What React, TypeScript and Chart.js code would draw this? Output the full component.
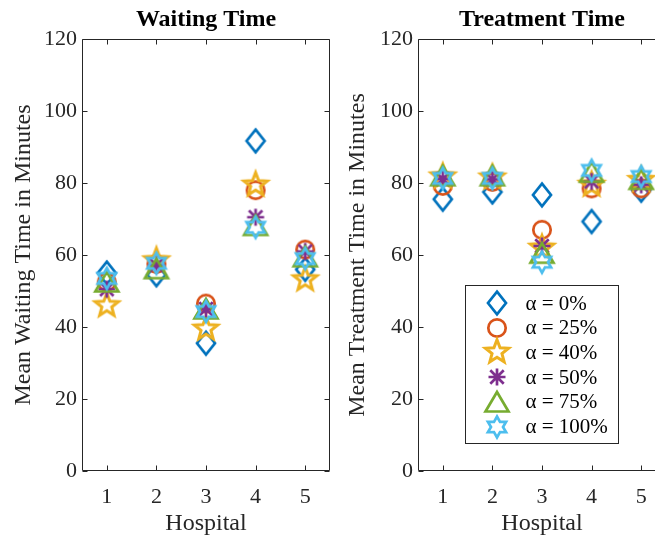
import React, { useEffect, useRef } from "react";
import { Chart, registerables } from "chart.js";

Chart.register(...registerables);

// ---------- data ----------
const hospitals = [1, 2, 3, 4, 5];
const yTickValues = [0, 20, 40, 60, 80, 100, 120];
const alphaLabels = ["α = 0%", "α = 25%", "α = 40%", "α = 50%", "α = 75%", "α = 100%"];

const waitAlpha0 = [55, 54.5, 35.5, 91.7, 56];
const waitAlpha25 = [52.5, 57.5, 46.5, 78, 61.5];
const waitAlpha40 = [46, 58.5, 39.5, 79.5, 53.2];
const waitAlpha50 = [50.5, 57.2, 45, 70.5, 61];
const waitAlpha75 = [52.5, 56.2, 45, 68.2, 59.5];
const waitAlpha100 = [53.5, 57.7, 44.3, 67.7, 59];

const treatAlpha0 = [75.5, 77.5, 76.7, 69.3, 78];
const treatAlpha25 = [79.2, 80.3, 67, 78.5, 78.5];
const treatAlpha40 = [81.8, 81.5, 62, 79.5, 80.8];
const treatAlpha50 = [81.1, 81, 62.5, 80.4, 79.5];
const treatAlpha75 = [82, 82, 60.5, 83, 81];
const treatAlpha100 = [81.3, 81.3, 58, 83.5, 81.8];

const waitSeries = [waitAlpha0, waitAlpha25, waitAlpha40, waitAlpha50, waitAlpha75, waitAlpha100];
const treatSeries = [treatAlpha0, treatAlpha25, treatAlpha40, treatAlpha50, treatAlpha75, treatAlpha100];

// ---------- style ----------
const seriesColors = ["#0072BD", "#D95319", "#EDB120", "#7E2F8E", "#77AC30", "#4DBEEE"];
const markerKinds = ["diamond", "circle", "pentagram", "asterisk", "triangle", "hexagram"];
const FONT = "'Liberation Serif', 'Times New Roman', serif";
const AXIS_COLOR = "#262626";

function makeMarker(kind: string, color: string): HTMLCanvasElement {
  const s = 34;
  const c = document.createElement("canvas");
  c.width = s;
  c.height = s;
  const ctx = c.getContext("2d")!;
  ctx.translate(s / 2, s / 2);
  ctx.strokeStyle = color;
  ctx.lineWidth = 2.7;
  ctx.lineJoin = "miter";
  ctx.beginPath();
  if (kind === "diamond") {
    ctx.moveTo(0, -11.3);
    ctx.lineTo(9, 0);
    ctx.lineTo(0, 11.3);
    ctx.lineTo(-9, 0);
    ctx.closePath();
  } else if (kind === "circle") {
    ctx.arc(0, 0, 8.7, 0, Math.PI * 2);
  } else if (kind === "pentagram") {
    ctx.lineWidth = 3;
    for (let i = 0; i < 10; i++) {
      const r = i % 2 ? 5.2 : 12.2;
      const a = -Math.PI / 2 + (i * Math.PI) / 5;
      if (i === 0) ctx.moveTo(r * Math.cos(a), r * Math.sin(a));
      else ctx.lineTo(r * Math.cos(a), r * Math.sin(a));
    }
    ctx.closePath();
  } else if (kind === "asterisk") {
    for (let k = 0; k < 4; k++) {
      const a = (k * Math.PI) / 4;
      const r = k % 2 ? 9.5 : 8.5;
      ctx.moveTo(r * Math.cos(a), r * Math.sin(a));
      ctx.lineTo(-r * Math.cos(a), -r * Math.sin(a));
    }
  } else if (kind === "triangle") {
    ctx.moveTo(0, -10);
    ctx.lineTo(11.5, 9.5);
    ctx.lineTo(-11.5, 9.5);
    ctx.closePath();
  } else if (kind === "hexagram") {
    for (let i = 0; i < 12; i++) {
      const r = i % 2 ? 6 : 10.5;
      const a = -Math.PI / 2 + (i * Math.PI) / 6;
      if (i === 0) ctx.moveTo(r * Math.cos(a), r * Math.sin(a));
      else ctx.lineTo(r * Math.cos(a), r * Math.sin(a));
    }
    ctx.closePath();
  }
  ctx.stroke();
  return c;
}

const framePlugin = {
  id: "matlabFrame",
  beforeDatasetsDraw(chart: any) {
    const { ctx, chartArea: a, scales } = chart;
    const tl = 5;
    ctx.save();
    ctx.strokeStyle = AXIS_COLOR;
    ctx.lineWidth = 1;
    const L = Math.round(a.left) + 0.5;
    const R = Math.round(a.right) - 0.5;
    const T = Math.round(a.top) + 0.5;
    const B = Math.round(a.bottom) - 0.5;
    ctx.beginPath();
    ctx.moveTo(L, T);
    ctx.lineTo(R, T);
    ctx.lineTo(R, B);
    ctx.lineTo(L, B);
    ctx.closePath();
    for (const v of hospitals) {
      const x = Math.round(scales.x.getPixelForValue(v)) + 0.5;
      ctx.moveTo(x, B);
      ctx.lineTo(x, B - tl);
      ctx.moveTo(x, T);
      ctx.lineTo(x, T + tl);
    }
    for (const v of yTickValues) {
      const y = Math.round(scales.y.getPixelForValue(v)) + 0.5;
      ctx.moveTo(L, y);
      ctx.lineTo(L + tl, y);
      ctx.moveTo(R, y);
      ctx.lineTo(R - tl, y);
    }
    ctx.stroke();
    ctx.restore();
  },
};

function makeLegendPlugin(markers: HTMLCanvasElement[]) {
  return {
    id: "matlabLegend",
    afterDatasetsDraw(chart: any) {
      const { ctx, chartArea: a } = chart;
      const x0 = Math.round(a.left + 47) + 0.5;
      const y0 = Math.round(a.top + 246) + 0.5;
      const w = 153;
      const h = 158;
      ctx.save();
      ctx.fillStyle = "#ffffff";
      ctx.fillRect(x0, y0, w, h);
      ctx.strokeStyle = AXIS_COLOR;
      ctx.lineWidth = 1;
      ctx.strokeRect(x0, y0, w, h);
      ctx.font = `21px ${FONT}`;
      ctx.fillStyle = "#000000";
      ctx.textBaseline = "middle";
      ctx.textAlign = "left";
      alphaLabels.forEach((lab, i) => {
        const cy = y0 + 17.5 + i * 24.7;
        const m = markers[i];
        ctx.drawImage(m, Math.round(x0 + 31 - m.width / 2), Math.round(cy - m.height / 2));
        ctx.fillText(lab, x0 + 60, cy + 1);
      });
      ctx.restore();
    },
  };
}

function buildConfig(
  title: string,
  yLabel: string,
  series: number[][],
  markers: HTMLCanvasElement[],
  yWidth: number,
  rightPad: number,
  yTitlePad: number,
  extraPlugins: any[]
): any {
  return {
    type: "scatter",
    data: {
      datasets: series.map((vals, i) => ({
        label: alphaLabels[i],
        data: hospitals.map((h, j) => ({ x: h, y: vals[j] })),
        pointStyle: markers[i],
        pointRadius: 12,
        pointHoverRadius: 12,
        borderColor: seriesColors[i],
        backgroundColor: seriesColors[i],
        order: series.length - i,
        clip: false,
      })),
    },
    options: {
      responsive: false,
      animation: false,
      devicePixelRatio: 1,
      layout: { padding: { left: 0, right: rightPad, top: 0, bottom: 0 } },
      plugins: {
        legend: { display: false },
        tooltip: { enabled: false },
        title: {
          display: true,
          text: title,
          fullSize: false,
          color: "#000000",
          font: { family: FONT, size: 24, weight: "bold", lineHeight: 1.2 },
          padding: { top: 5.5, bottom: 4.7 },
        },
      },
      scales: {
        x: {
          type: "linear",
          min: 0.5,
          max: 5.5,
          afterBuildTicks: (s: any) => {
            s.ticks = hospitals.map((v) => ({ value: v }));
          },
          afterFit: (s: any) => {
            s.height = 67;
            s.paddingLeft = 0;
            s.paddingRight = 0;
          },
          grid: { display: false, drawTicks: false },
          border: { display: false },
          ticks: {
            color: AXIS_COLOR,
            font: { family: FONT, size: 22 },
            padding: 13,
            autoSkip: false,
            maxRotation: 0,
            callback: (v: any) => String(v),
          },
          title: {
            display: true,
            text: "Hospital",
            color: AXIS_COLOR,
            font: { family: FONT, size: 24, lineHeight: 1.2 },
            padding: { top: 0, bottom: 0 },
          },
        },
        y: {
          min: 0,
          max: 120,
          afterBuildTicks: (s: any) => {
            s.ticks = yTickValues.map((v) => ({ value: v }));
          },
          afterFit: (s: any) => {
            s.width = yWidth;
            s.paddingTop = 0;
            s.paddingBottom = 0;
          },
          grid: { display: false, drawTicks: false },
          border: { display: false },
          ticks: {
            color: AXIS_COLOR,
            font: { family: FONT, size: 22 },
            padding: 5,
            callback: (v: any) => String(v),
          },
          title: {
            display: true,
            text: yLabel,
            color: AXIS_COLOR,
            font: { family: FONT, size: 24, lineHeight: 1.2 },
            padding: { top: yTitlePad, bottom: 0 },
          },
        },
      },
    },
    plugins: [framePlugin, ...extraPlugins],
  };
}

export default function App() {
  const leftRef = useRef<HTMLCanvasElement>(null);
  const rightRef = useRef<HTMLCanvasElement>(null);

  useEffect(() => {
    const markers = markerKinds.map((k, i) => makeMarker(k, seriesColors[i]));
    const left = new Chart(
      leftRef.current!,
      buildConfig("Waiting Time", "Mean Waiting Time in Minutes", waitSeries, markers, 82, 14, 9, [])
    );
    const right = new Chart(
      rightRef.current!,
      buildConfig(
        "Treatment Time",
        "Mean Treatment Time in Minutes",
        treatSeries,
        markers,
        78,
        14,
        3,
        [makeLegendPlugin(markers)]
      )
    );
    return () => {
      left.destroy();
      right.destroy();
    };
  }, []);

  return (
    <div
      style={{
        position: "fixed",
        left: 0,
        top: 0,
        width: 655,
        height: 538,
        overflow: "hidden",
        background: "#ffffff",
      }}
    >
      <canvas
        ref={leftRef}
        width={344}
        height={538}
        style={{ position: "absolute", left: 0, top: 0, width: 344, height: 538 }}
      />
      <canvas
        ref={rightRef}
        width={340}
        height={538}
        style={{ position: "absolute", left: 340, top: 0, width: 340, height: 538 }}
      />
    </div>
  );
}
